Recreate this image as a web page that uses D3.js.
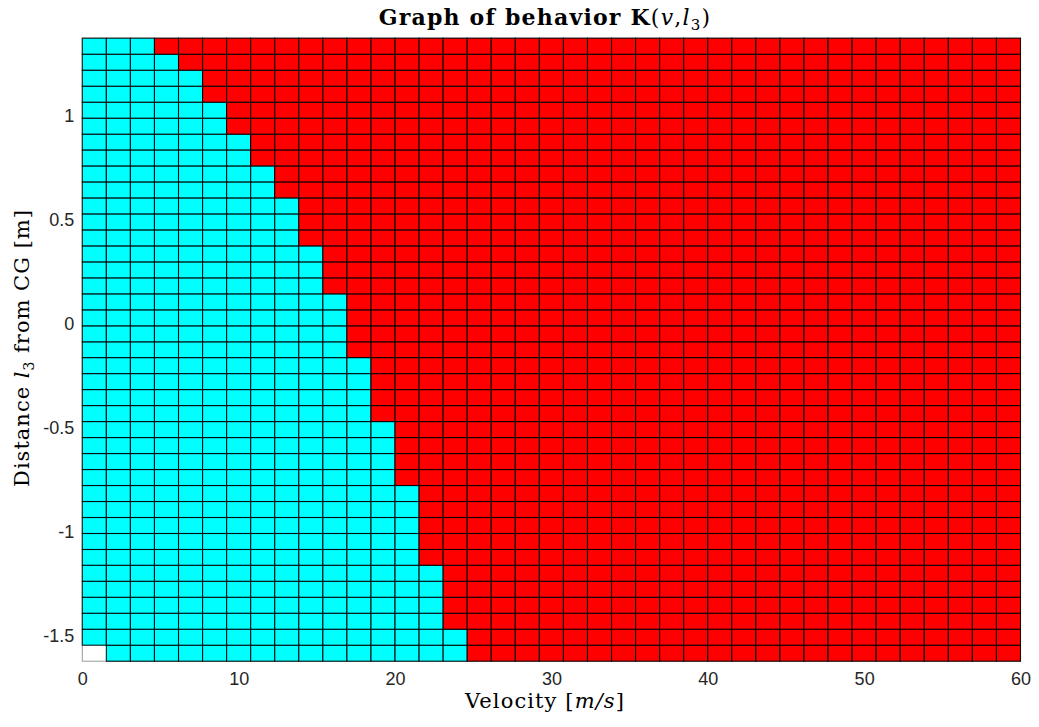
<!DOCTYPE html>
<html>
<head>
<meta charset="utf-8">
<script src="https://cdn.jsdelivr.net/npm/d3@7/dist/d3.min.js"></script>
<style>
  html, body { margin: 0; padding: 0; background: #fff; }
  svg { display: block; }
</style>
</head>
<body>
<svg id="chart" width="1039" height="727"></svg>
<script>
// ---- data ----
// velocity grid edges [m/s] (40 grid points -> 39 cells)
const velocityEdges = [0, 1.538, 3.077, 4.615, 6.154, 7.692, 9.231, 10.769, 12.308, 13.846,
  15.385, 16.923, 18.462, 20, 21.538, 23.077, 24.615, 26.154, 27.692, 29.231,
  30.769, 32.308, 33.846, 35.385, 36.923, 38.462, 40, 41.538, 43.077, 44.615,
  46.154, 47.692, 49.231, 50.769, 52.308, 53.846, 55.385, 56.923, 58.462, 60];
// l3 grid edges [m]
const l3Edges = [-1.625, -1.548, -1.471, -1.394, -1.317, -1.240, -1.163, -1.087, -1.010, -0.933,
  -0.856, -0.779, -0.702, -0.625, -0.548, -0.471, -0.394, -0.317, -0.240, -0.163,
  -0.087, -0.010, 0.067, 0.144, 0.221, 0.298, 0.375, 0.452, 0.529, 0.606,
  0.683, 0.760, 0.837, 0.913, 0.990, 1.067, 1.144, 1.221, 1.298, 1.375];
// number of low-velocity (cyan) cells in each l3 row, from bottom row to top row
const cyanCellsPerRow = [16, 16, 15, 15, 15, 15, 14, 14, 14, 14, 14, 13, 13, 13, 13,
  12, 12, 12, 12, 11, 11, 11, 11, 10, 10, 10, 9, 9, 9, 8, 8, 7, 7, 6, 6, 5, 5, 4, 3];
// cells with no value (NaN) given as [row, column]
const missingCells = [[0, 0]];
const xTicks = [0, 10, 20, 30, 40, 50, 60];
const yTicks = [-1.5, -1, -0.5, 0, 0.5, 1];
const behaviorColors = { low: "#00ffff", high: "#ff0000" };

// ---- layout ----
const svg = d3.select("#chart");
const plot = { left: 82.3, right: 1020.5, top: 38.2, bottom: 661.2 };

const x = d3.scaleLinear().domain([0, 60]).range([plot.left, plot.right]);
const y = d3.scaleLinear().domain([l3Edges[0], l3Edges[l3Edges.length - 1]]).range([plot.bottom, plot.top]);

// axes box (drawn below data, like MATLAB default layer)
svg.append("rect")
  .attr("x", plot.left).attr("y", plot.top)
  .attr("width", plot.right - plot.left).attr("height", plot.bottom - plot.top)
  .attr("fill", "none").attr("stroke", "#9a9a9a").attr("stroke-width", 1);

// cells
const cells = [];
for (let r = 0; r < l3Edges.length - 1; r++) {
  for (let c = 0; c < velocityEdges.length - 1; c++) {
    if (missingCells.some(m => m[0] === r && m[1] === c)) continue;
    cells.push({
      v0: velocityEdges[c], v1: velocityEdges[c + 1],
      l0: l3Edges[r], l1: l3Edges[r + 1],
      behavior: c < cyanCellsPerRow[r] ? "low" : "high"
    });
  }
}

svg.append("g").selectAll("rect").data(cells).join("rect")
  .attr("x", d => x(d.v0))
  .attr("y", d => y(d.l1))
  .attr("width", d => x(d.v1) - x(d.v0))
  .attr("height", d => y(d.l0) - y(d.l1))
  .attr("fill", d => behaviorColors[d.behavior])
  .attr("stroke", "#000")
  .attr("stroke-opacity", 0.9)
  .attr("stroke-width", 1.1);

// tick labels
const xAxis = svg.append("g")
  .attr("transform", `translate(0,${plot.bottom})`)
  .call(d3.axisBottom(x).tickValues(xTicks).tickSize(0).tickPadding(11).tickFormat(d3.format("d")));
const yAxis = svg.append("g")
  .attr("transform", `translate(${plot.left},0)`)
  .call(d3.axisLeft(y).tickValues(yTicks).tickSize(0).tickPadding(8).tickFormat(d => String(d)));
[xAxis, yAxis].forEach(g => {
  g.select(".domain").remove();
  g.selectAll("text")
    .attr("font-family", "'Liberation Sans', Arial, sans-serif")
    .attr("font-size", 18)
    .attr("fill", "#262626");
});

const serif = "'DejaVu Serif', serif";

// title
const title = svg.append("text")
  .attr("x", 545).attr("y", 25)
  .attr("text-anchor", "middle")
  .attr("font-family", serif)
  .attr("font-size", 22)
  .attr("letter-spacing", 1.2)
  .attr("fill", "#000");
title.append("tspan").attr("font-weight", "bold").text("Graph of behavior K");
title.append("tspan").text("(");
title.append("tspan").attr("font-style", "italic").text("v");
title.append("tspan").text(",");
title.append("tspan").attr("font-style", "italic").text("l");
title.append("tspan").attr("font-size", 15).attr("dy", 5).text("3");
title.append("tspan").attr("dy", -5).text(")");

// x label
const xl = svg.append("text")
  .attr("x", 545).attr("y", 708)
  .attr("text-anchor", "middle")
  .attr("font-family", serif)
  .attr("font-size", 21)
  .attr("letter-spacing", 1.1)
  .attr("fill", "#000");
xl.append("tspan").text("Velocity [");
xl.append("tspan").attr("font-style", "italic").text("m/s");
xl.append("tspan").text("]");

// y label
const yl = svg.append("text")
  .attr("transform", `translate(29,${348}) rotate(-90)`)
  .attr("text-anchor", "middle")
  .attr("font-family", serif)
  .attr("font-size", 21)
  .attr("letter-spacing", 1.0)
  .attr("fill", "#000");
yl.append("tspan").text("Distance ");
yl.append("tspan").attr("font-style", "italic").text("l");
yl.append("tspan").attr("font-size", 14).attr("dy", 5).text("3");
yl.append("tspan").attr("dy", -5).text(" from CG [m]");
</script>
</body>
</html>
